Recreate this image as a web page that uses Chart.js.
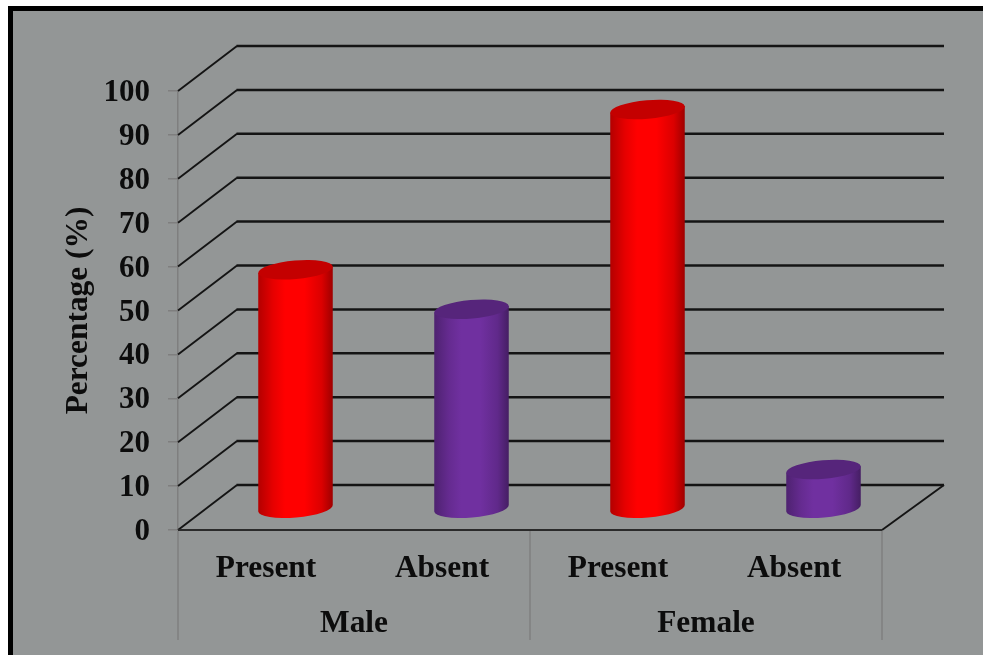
<!DOCTYPE html>
<html>
<head>
<meta charset="utf-8">
<title>Percentage by sex</title>
<script src="https://cdn.jsdelivr.net/npm/chart.js@4"></script>
<style>
  html, body { margin: 0; padding: 0; background: #fff; overflow: hidden; }
  #wrap { position: absolute; left: 0; top: 0; width: 983px; height: 655px; }
</style>
</head>
<body>
<div id="wrap"><canvas id="chart" width="983" height="655"></canvas></div>
<script>
// Chart values
const categories = ['Present', 'Absent', 'Present', 'Absent'];
const groups = ['Male', 'Female'];
const percentages = [54.5, 45.5, 91, 9];
const barColors = ['#ff0000', '#7030a0', '#ff0000', '#7030a0'];
const yAxisTitle = 'Percentage (%)';

// Look of the pseudo-3D box and frame
const WALL_DX_LEFT = 59, WALL_DX_RIGHT = 62, WALL_DY = 45;
const BAR_DX = 29.5, BAR_DY = 21;
const PANEL = '#939696', AXIS_GRAY = '#7f7f7f', INK = '#0c0c0c';
const SERIF = '"Liberation Serif", "Times New Roman", serif';
const TICK_FONT = { family: SERIF, weight: 'bold', size: 31 };
const LABEL_FONT = { family: SERIF, weight: 'bold', size: 31.4 };

function shade(hex, k) {
  const n = parseInt(hex.slice(1), 16);
  const c = [n >> 16, (n >> 8) & 255, n & 255].map(v => Math.round(v * k));
  return `rgb(${c[0]},${c[1]},${c[2]})`;
}

// Panel background and the black frame along the top and left edges
const framePlugin = {
  id: 'frame',
  beforeDraw(chart) {
    const { ctx, width, height } = chart;
    ctx.save();
    ctx.fillStyle = '#fff';
    ctx.fillRect(0, 0, width, height);
    ctx.fillStyle = '#000';
    ctx.fillRect(8, 6, width - 8, height - 6);
    ctx.fillStyle = PANEL;
    ctx.fillRect(13, 11, width - 13, height - 11);
    ctx.restore();
  }
};

// Side wall, back wall and floor of the box, following the value scale
const wallsPlugin = {
  id: 'walls',
  beforeDatasetsDraw(chart) {
    const { ctx, chartArea: a, scales: { y } } = chart;
    ctx.save();
    ctx.strokeStyle = '#141414';
    y.ticks.forEach(t => {
      const py = y.getPixelForValue(t.value);
      const backX = a.left + WALL_DX_LEFT, backY = py - WALL_DY;
      ctx.lineWidth = 1.9;
      ctx.beginPath();
      ctx.moveTo(a.left, py);
      ctx.lineTo(backX, backY);
      ctx.stroke();
      ctx.lineWidth = 2.5;
      ctx.beginPath();
      ctx.moveTo(backX - 0.5, backY);
      ctx.lineTo(a.right + WALL_DX_RIGHT, backY);
      ctx.stroke();
      if (t.value === 0) {
        ctx.lineWidth = 1.9;
        ctx.beginPath();
        ctx.moveTo(a.right + WALL_DX_RIGHT, backY);
        ctx.lineTo(a.right, py);
        ctx.stroke();
      }
    });
    ctx.lineWidth = 2;
    ctx.strokeStyle = '#2a2a2a';
    ctx.beginPath();
    ctx.moveTo(a.left, a.bottom);
    ctx.lineTo(a.right, a.bottom);
    ctx.stroke();
    ctx.restore();
  }
};

// Each bar element is painted as a cylinder standing on the floor of the box
const cylinderPlugin = {
  id: 'cylinders',
  beforeDatasetDraw(chart, args) {
    const { ctx } = chart;
    const meta = args.meta;
    const colors = chart.data.datasets[args.index].backgroundColor;
    const tilt = -5 * Math.PI / 180;
    meta.data.forEach((bar, i) => {
      const rx = bar.width / 2, ry = 9.2;
      const cx = bar.x + BAR_DX;
      const yTop = bar.y - BAR_DY, yBase = bar.base - BAR_DY;
      const dx = rx * Math.cos(tilt), dy = rx * Math.sin(tilt);
      const g = ctx.createLinearGradient(cx - rx, 0, cx + rx, 0);
      g.addColorStop(0, shade(colors[i], 0.7));
      g.addColorStop(0.2, shade(colors[i], 0.9));
      g.addColorStop(0.36, shade(colors[i], 1));
      g.addColorStop(0.62, shade(colors[i], 1));
      g.addColorStop(0.85, shade(colors[i], 0.86));
      g.addColorStop(1, shade(colors[i], 0.62));
      ctx.save();
      ctx.fillStyle = g;
      ctx.beginPath();
      ctx.ellipse(cx, yBase, rx, ry, tilt, 0, Math.PI, false);
      ctx.lineTo(cx - dx, yTop - dy);
      ctx.lineTo(cx + dx, yTop + dy);
      ctx.closePath();
      ctx.fill();
      ctx.fillStyle = shade(colors[i], 0.77);
      ctx.beginPath();
      ctx.ellipse(cx, yTop, rx, ry, tilt, 0, Math.PI * 2);
      ctx.fill();
      ctx.restore();
    });
    return false;
  }
};

// Vertical separators between the two label groups
const separatorPlugin = {
  id: 'groupSeparators',
  afterDraw(chart) {
    const { ctx, chartArea: a, scales: { group } } = chart;
    ctx.save();
    ctx.strokeStyle = AXIS_GRAY;
    ctx.lineWidth = 1.5;
    [a.left, (a.left + a.right) / 2, a.right].forEach(x => {
      ctx.beginPath();
      ctx.moveTo(x, a.bottom + 1);
      ctx.lineTo(x, group.bottom);
      ctx.stroke();
    });
    ctx.restore();
  }
};

new Chart(document.getElementById('chart'), {
  type: 'bar',
  data: {
    labels: categories,
    datasets: [{
      label: yAxisTitle,
      data: percentages,
      backgroundColor: barColors,
      borderWidth: 0,
      categoryPercentage: 1,
      barPercentage: 0.425
    }]
  },
  plugins: [framePlugin, wallsPlugin, cylinderPlugin, separatorPlugin],
  options: {
    responsive: false,
    animation: false,
    layout: { padding: { left: 60, right: 101, top: 91, bottom: 15 } },
    plugins: { legend: { display: false }, tooltip: { enabled: false } },
    scales: {
      x: {
        position: 'bottom',
        grid: { display: false },
        border: { display: false },
        ticks: { color: INK, font: LABEL_FONT, padding: 12, maxRotation: 0, autoSkip: false },
        afterFit(s) { s.height = 55; }
      },
      group: {
        type: 'category',
        labels: groups,
        position: 'bottom',
        grid: { display: false },
        border: { display: false },
        ticks: { color: INK, font: LABEL_FONT, padding: 12, maxRotation: 0 },
        afterFit(s) { s.height = 55; }
      },
      y: {
        min: 0,
        max: 100,
        ticks: { stepSize: 10, color: INK, font: TICK_FONT, padding: 18, labelOffset: 2 },
        grid: { drawOnChartArea: false, color: AXIS_GRAY, tickLength: 10, lineWidth: 1.5 },
        border: { color: AXIS_GRAY, width: 1.5 },
        title: { display: true, text: yAxisTitle, color: INK, font: LABEL_FONT, padding: 0 },
        afterFit(s) { s.width = 118; }
      }
    }
  }
});
</script>
</body>
</html>
